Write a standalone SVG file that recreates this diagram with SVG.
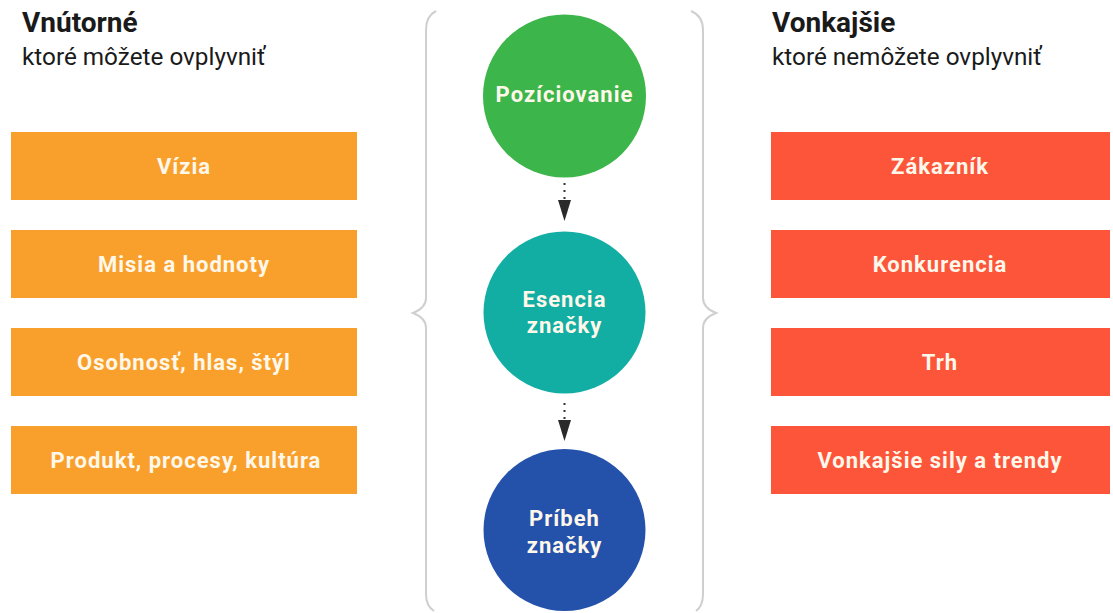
<svg xmlns="http://www.w3.org/2000/svg" width="1113" height="613" viewBox="0 0 1113 613">
<defs>
<style>
.h{font-family:Roboto,"Liberation Sans",sans-serif;font-weight:bold;font-size:28px;fill:#1a1a1a}
.s{font-family:Roboto,"Liberation Sans",sans-serif;font-size:24.3px;fill:#1a1a1a}
.bt{font-family:Roboto,"Liberation Sans",sans-serif;font-weight:bold;font-size:22px;letter-spacing:1px;fill:#fff8ea;text-anchor:middle}
.or{fill:#f9a02c}
.rd{fill:#fd553a}
.br{fill:none;stroke:#cfcfcf;stroke-width:2}
.dot{stroke:#333;stroke-width:2;stroke-dasharray:2 5;fill:none}
.ah{fill:#2a2a2a}
</style>
</defs>
<rect width="1113" height="613" fill="#ffffff"/>
<g id="header-left">
<text class="h" x="22" y="32">Vnútorné</text>
<text class="s" x="22" y="65">ktoré môžete ovplyvniť</text>
</g>
<g id="header-right">
<text class="h" x="772" y="32">Vonkajšie</text>
<text class="s" x="772" y="65">ktoré nemôžete ovplyvniť</text>
</g>
<g id="braces">
<path class="br" d="M436,11 Q426,16 426,30 L426,298 Q426,308 413,313 Q426,318 426,328 L426,594 Q426,606 434,611"/>
<path class="br" d="M691,11 Q703,16 703,30 L703,298 Q703,308 716,313 Q703,318 703,328 L703,594 Q703,606 696,611"/>
</g>
<g id="vizia"><rect class="or" x="11" y="132" width="346" height="68"/><text class="bt" x="184" y="174">Vízia</text></g>
<g id="misia"><rect class="or" x="11" y="230" width="346" height="68"/><text class="bt" x="184" y="272">Misia a hodnoty</text></g>
<g id="osobnost"><rect class="or" x="11" y="328" width="346" height="68"/><text class="bt" x="184" y="370">Osobnosť, hlas, štýl</text></g>
<g id="produkt"><rect class="or" x="11" y="426" width="346" height="68"/><text class="bt" x="186" y="468">Produkt, procesy, kultúra</text></g>
<g id="zakaznik"><rect class="rd" x="771" y="132" width="339" height="68"/><text class="bt" x="940" y="174">Zákazník</text></g>
<g id="konkurencia"><rect class="rd" x="771" y="230" width="339" height="68"/><text class="bt" x="940" y="272">Konkurencia</text></g>
<g id="trh"><rect class="rd" x="771" y="328" width="339" height="68"/><text class="bt" x="940" y="370">Trh</text></g>
<g id="sily"><rect class="rd" x="771" y="426" width="339" height="68"/><text class="bt" x="940" y="468">Vonkajšie sily a trendy</text></g>
<g id="poziciovanie"><circle cx="564.5" cy="96" r="81.5" fill="#3cb54a"/><text class="bt" x="564.5" y="102">Pozíciovanie</text></g>
<g id="esencia"><circle cx="564.5" cy="312.5" r="81" fill="#12aea4"/><text class="bt" x="564.5" y="307">Esencia</text><text class="bt" x="564.5" y="333">značky</text></g>
<g id="pribeh"><circle cx="564.5" cy="530" r="81" fill="#2452ab"/><text class="bt" x="564.5" y="526">Príbeh</text><text class="bt" x="564.5" y="553">značky</text></g>
<g id="connectors">
<path class="dot" d="M564.5,183 L564.5,200"/>
<path class="ah" d="M558,200 L571,200 L564.5,221 Z"/>
<path class="dot" d="M564.5,403 L564.5,420"/>
<path class="ah" d="M558,420 L571,420 L564.5,441 Z"/>
</g>
</svg>
